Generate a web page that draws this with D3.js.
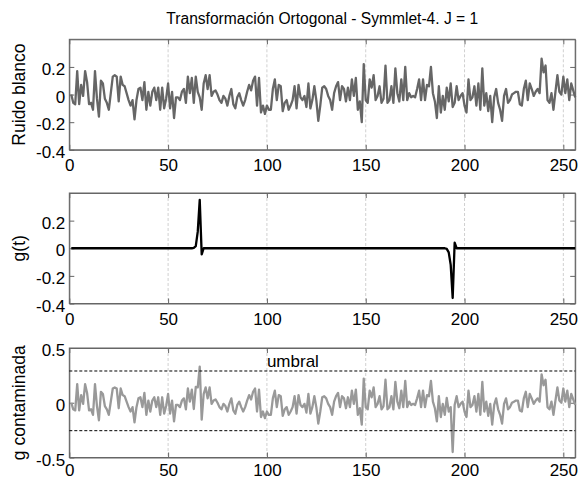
<!DOCTYPE html>
<html>
<head>
<meta charset="utf-8">
<script src="https://cdn.jsdelivr.net/npm/d3@7"></script>
<style>
  body { margin: 0; background: #fff; }
  svg { font-family: "Liberation Sans", Arial, sans-serif; }
  .tick text { font-size: 17px; fill: #000; }
</style>
</head>
<body>
<svg></svg>
<script>
const width = 579;
const height = 481;

// ruido blanco, muestras 1..256
const ruido = [
  0.00,-0.06,-0.07,0.17,-0.07,0.07,-0.01,0.17,0.09,-0.07,
  -0.06,-0.11,0.17,-0.03,-0.16,0.10,0.08,-0.03,-0.06,-0.11,
  0.01,0.13,0.14,0.13,-0.05,0.13,0.07,0.06,0.01,-0.04,
  -0.08,-0.04,-0.18,-0.04,0.04,0.05,-0.04,0.09,-0.11,0.02,
  -0.08,0.02,0.05,-0.04,0.05,-0.11,0.05,-0.10,-0.03,0.08,
  -0.10,0.02,-0.17,-0.02,-0.02,-0.04,0.02,0.04,-0.06,0.13,
  0.01,0.12,-0.06,0.13,0.02,-0.02,-0.11,0.08,0.14,0.04,
  0.14,-0.01,0.02,0.03,0.00,-0.04,-0.06,-0.01,-0.03,-0.08,
  -0.01,0.04,-0.07,-0.10,-0.02,0.01,-0.04,-0.08,-0.04,0.02,
  0.07,0.03,0.10,0.13,-0.08,0.12,-0.13,-0.08,-0.14,-0.08,
  -0.11,-0.11,0.04,0.11,-0.04,0.07,0.06,-0.12,-0.06,-0.04,
  -0.11,-0.08,-0.04,0.06,-0.10,0.07,-0.02,-0.04,-0.01,-0.09,
  0.08,-0.10,-0.04,0.06,-0.04,-0.19,-0.08,0.05,0.06,0.04,
  -0.01,-0.04,-0.11,0.01,0.06,0.09,-0.04,0.06,0.04,-0.05,
  0.05,-0.04,0.11,-0.01,0.12,-0.11,-0.05,-0.20,0.22,-0.04,
  -0.06,0.11,0.05,0.14,-0.04,-0.01,0.06,-0.06,-0.03,0.21,
  -0.06,-0.04,0.06,-0.06,0.19,0.01,-0.05,0.11,-0.04,0.20,
  -0.04,0.01,-0.02,-0.01,-0.02,0.04,0.11,-0.04,0.11,-0.04,
  0.07,0.06,0.20,0.01,-0.05,-0.17,0.06,-0.13,-0.01,-0.11,
  0.05,-0.05,0.08,-0.09,-0.06,0.06,-0.04,-0.01,0.01,-0.08,
  -0.13,0.11,-0.04,-0.02,0.06,-0.08,0.08,-0.11,0.19,-0.08,
  0.01,-0.12,-0.01,-0.20,-0.02,0.04,-0.06,-0.11,-0.19,-0.01,
  0.04,-0.06,-0.04,0.00,0.01,0.02,0.02,-0.07,-0.08,0.04,
  0.10,-0.04,0.08,0.04,-0.01,0.02,0.04,0.01,0.26,0.16,
  0.21,-0.04,-0.06,0.01,-0.11,0.02,0.14,0.02,0.00,0.13,
  0.01,0.11,-0.04,0.08,0.03,-0.02
];

// g(t): cero salvo en los dos picos [muestra, valor]
const gPicos = [
  [63, 0.003], [64, 0.015], [65, 0.12], [66, 0.35], [67, -0.045],
  [191, -0.005], [192, -0.03], [193, -0.12], [194, -0.36], [195, 0.04]
];

// umbrales (líneas discontinuas)
const umbralSup = 0.29;
const umbralInf = -0.255;

const xTicks = [0, 50, 100, 150, 200, 250];
const yTicks12 = [-0.4, -0.2, 0, 0.2];
const yTicks3 = [-0.5, 0, 0.5];

const n = ruido.length;
const t = d3.range(1, n + 1);
const gMap = new Map(gPicos);
const g = t.map(k => gMap.get(k) || 0);
const contaminada = t.map((k, i) => ruido[i] + g[i]);

const svg = d3.select("svg").attr("width", width).attr("height", height);

const x = d3.scaleLinear().domain([0, 256]).range([69.3, 575.2]);

const paneles = [
  { top: 39.3, bottom: 149.8, dom: [-0.4, 0.4], ticks: yTicks12, datos: ruido, color: "#666", label: "Ruido blanco" },
  { top: 193, bottom: 303.5, dom: [-0.4, 0.4], ticks: yTicks12, datos: g, color: "#000", label: "g(t)" },
  { top: 348, bottom: 457.5, dom: [-0.5, 0.5], ticks: yTicks3, datos: contaminada, color: "#999", label: "g contaminada" }
];

const fmt = d => (d === 0 ? "0" : String(d));

paneles.forEach((p, idx) => {
  const y = d3.scaleLinear().domain(p.dom).range([p.bottom, p.top]);
  const gp = svg.append("g");

  // rejilla vertical
  gp.selectAll(".grid")
    .data(xTicks.filter(d => d > 0))
    .join("line")
    .attr("x1", d => x(d)).attr("x2", d => x(d))
    .attr("y1", p.top).attr("y2", p.bottom)
    .attr("stroke", "#d0d0d0")
    .attr("stroke-width", 1)
    .attr("stroke-dasharray", "3,2");

  // ejes con marcas hacia dentro
  const ax = gp.append("g")
    .attr("transform", `translate(0,${p.bottom})`)
    .call(d3.axisBottom(x).tickValues(xTicks).tickSizeInner(-5).tickSizeOuter(0).tickPadding(idx === 2 ? 7 : 9).tickFormat(fmt));
  const axTop = gp.append("g")
    .attr("transform", `translate(0,${p.top})`)
    .call(d3.axisTop(x).tickValues(xTicks).tickSizeInner(-5).tickSizeOuter(0).tickFormat(""));
  const ay = gp.append("g")
    .attr("transform", `translate(${x(0)},0)`)
    .call(d3.axisLeft(y).tickValues(p.ticks).tickSizeInner(-5).tickSizeOuter(0).tickPadding(4).tickFormat(fmt));
  const ayR = gp.append("g")
    .attr("transform", `translate(${x(256)},0)`)
    .call(d3.axisRight(y).tickValues(p.ticks).tickSizeInner(-5).tickSizeOuter(0).tickFormat(""));
  [ax, axTop, ay, ayR].forEach(a => {
    a.select(".domain").attr("stroke", "#666");
    a.selectAll(".tick line").attr("stroke", "#666");
  });
  ay.selectAll("text").attr("dy", "0.45em");
  if (idx === 2) ax.selectAll("text").attr("dy", "0.68em");

  // caja
  gp.append("rect")
    .attr("x", x(0)).attr("y", p.top)
    .attr("width", x(256) - x(0)).attr("height", p.bottom - p.top)
    .attr("fill", "none").attr("stroke", "#666").attr("stroke-width", 1);

  // serie
  gp.append("path")
    .datum(p.datos)
    .attr("fill", "none")
    .attr("stroke", p.color)
    .attr("stroke-width", 2.3)
    .attr("stroke-linejoin", "round")
    .attr("d", d3.line().x((d, i) => x(t[i])).y(d => y(d)));

  if (idx === 2) {
    [umbralSup, umbralInf].forEach(u => {
      gp.append("line")
        .attr("x1", x(0)).attr("x2", x(256))
        .attr("y1", y(u)).attr("y2", y(u))
        .attr("stroke", "#000").attr("stroke-width", 1)
        .attr("stroke-dasharray", "3,2");
    });
    gp.append("text")
      .attr("x", x(100)).attr("y", y(umbralSup) - 4)
      .attr("font-size", 17)
      .text("umbral");
  }

  // etiqueta eje Y
  gp.append("text")
    .attr("transform", "rotate(-90)")
    .attr("x", -(p.top + p.bottom) / 2)
    .attr("y", 25)
    .attr("text-anchor", "middle")
    .attr("font-size", 17.5)
    .text(p.label);
});

// título
svg.append("text")
  .attr("x", (x(0) + x(256)) / 2)
  .attr("y", 24)
  .attr("text-anchor", "middle")
  .attr("font-size", 15.6)
  .text("Transformación Ortogonal - Symmlet-4. J = 1");
</script>
</body>
</html>
